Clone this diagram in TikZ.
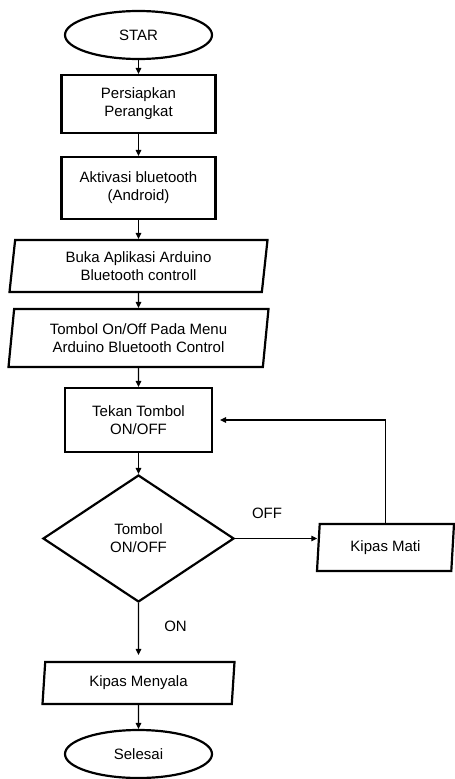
\documentclass[tikz,border=0pt]{standalone}
\usepackage{fontspec}
\setmainfont{Liberation Sans}
\usetikzlibrary{shapes.geometric, arrows.meta}
\tikzset{
  box/.style = {draw, line width = 2.2pt, align = center, inner sep = 0, font = \fontsize{15}{18}\selectfont},
  terminal/.style = {box, ellipse, minimum width = 147, minimum height = 48},
  process/.style = {box, rectangle},
  io/.style = {box, trapezium, trapezium left angle = 79, trapezium right angle = 101, trapezium stretches body},
  decision/.style = {box, diamond, minimum width = 191, minimum height = 127},
  flow/.style = {line width = 1.2pt, -{Triangle[length = 6pt, width = 5.5pt]}},
  lbl/.style = {font = \fontsize{15}{18}\selectfont, inner sep = 0}
}

\begin{document}
\begin{tikzpicture}[x = 1pt, y = -1pt]
    \useasboundingbox (0, 0) rectangle (455, 779);

    \node [terminal] (star) at (138.5, 35) {STAR};
    \node [process, minimum width = 154, minimum height = 58] (prep) at (138.5, 104) {Persiapkan\\Perangkat};
    \node [process, minimum width = 154, minimum height = 62] (aktiv) at (138.5, 188) {Aktivasi bluetooth\\(Android)};
    \node [io, minimum width = 258, minimum height = 52] (buka) at (138.5, 266) {Buka Aplikasi Arduino\\Bluetooth controll};
    \node [io, minimum width = 260, minimum height = 58] (menu) at (138.5, 338) {Tombol On/Off Pada Menu\\Arduino Bluetooth Control};
    \node [process, minimum width = 147, minimum height = 64] (tekan) at (138.5, 420) {Tekan Tombol\\ON/OFF};
    \node [decision] (cek) at (138.5, 538.5) {Tombol\\ON/OFF};
    \node [io, minimum width = 137, minimum height = 47] (mati) at (385.5, 547.5) {Kipas Mati};
    \node [io, minimum width = 192, minimum height = 42] (nyala) at (138.5, 683) {Kipas Menyala};
    \node [terminal] (selesai) at (138.5, 754) {Selesai};

    \node [lbl] (off) at (267, 513) {OFF};
    \node [lbl] (on) at (175.5, 626.5) {ON};

    \draw [flow] (star) -- (prep);
    \draw [flow] (prep) -- (aktiv);
    \draw [flow] (aktiv) -- (buka);
    \draw [flow] (buka) -- (menu);
    \draw [flow] (menu) -- (tekan);
    \draw [flow] (tekan) -- (cek);
    \draw [flow] (cek.east) -- (cek.east -| mati.west);
    \draw [flow, shorten > = 7pt] (mati.north) |- (tekan.east);
    \draw [flow, shorten > = 6pt] (cek) -- (nyala);
    \draw [flow] (nyala) -- (selesai);
\end{tikzpicture}
\end{document}
